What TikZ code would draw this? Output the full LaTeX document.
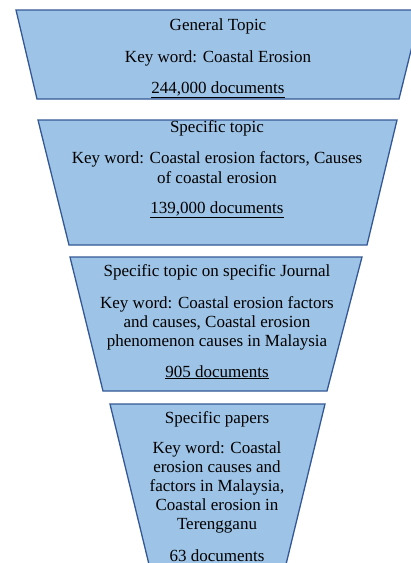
\documentclass[tikz,border=0pt]{standalone}
\usepackage{fontspec}
\setmainfont{Liberation Serif}
\definecolor{funnelfill}{RGB}{157,195,230}
\definecolor{funneldraw}{RGB}{52,88,150}
\begin{document}
\begin{tikzpicture}[x=1pt,y=-1pt,
  funnel/.style={fill=funnelfill,draw=funneldraw,line width=1.3pt,line join=miter},
  txt/.style={anchor=base,inner sep=0pt,font=\fontsize{17}{20}\selectfont}]
\useasboundingbox (0,0) rectangle (411,563);
\clip (0,0) rectangle (411,563);
% funnel stages
\draw[funnel] (16,10) -- (421,10) -- (399,99) -- (37,99) -- cycle;
\draw[funnel] (38,120) -- (397,120) -- (367,245) -- (69,245) -- cycle;
\draw[funnel] (70,257) -- (362,257) -- (327,391) -- (103,391) -- cycle;
\draw[funnel] (110,404) -- (325,404) -- (281,585) -- (154,585) -- cycle;
% stage 1
\node[txt] (a1) at (218,30) {General Topic};
\node[txt] (a2) at (218,62) {Key word: Coastal Erosion};
\node[txt] (a3) at (218,93) {\underline{244,000 documents}};
% stage 2
\node[txt] (b1) at (217,132) {Specific topic};
\node[txt] (b2) at (217,163) {Key word: Coastal erosion factors, Causes};
\node[txt] (b3) at (217,183) {of coastal erosion};
\node[txt] (b4) at (217,213) {\underline{139,000 documents}};
% stage 3
\node[txt] (c1) at (217,276) {Specific topic on specific Journal};
\node[txt] (c2) at (217,308) {Key word: Coastal erosion factors};
\node[txt] (c3) at (217,327) {and causes, Coastal erosion};
\node[txt] (c4) at (217,346) {phenomenon causes in Malaysia};
\node[txt] (c5) at (217,377) {\underline{905 documents}};
% stage 4
\node[txt] (d1) at (217,423) {Specific papers};
\node[txt] (d2) at (217,453) {Key word: Coastal};
\node[txt] (d3) at (217,472) {erosion causes and};
\node[txt] (d4) at (217,491) {factors in Malaysia,};
\node[txt] (d5) at (217,510) {Coastal erosion in};
\node[txt] (d6) at (217,529) {Terengganu};
\node[txt] (d7) at (217,561) {63 documents};
\end{tikzpicture}
\end{document}
